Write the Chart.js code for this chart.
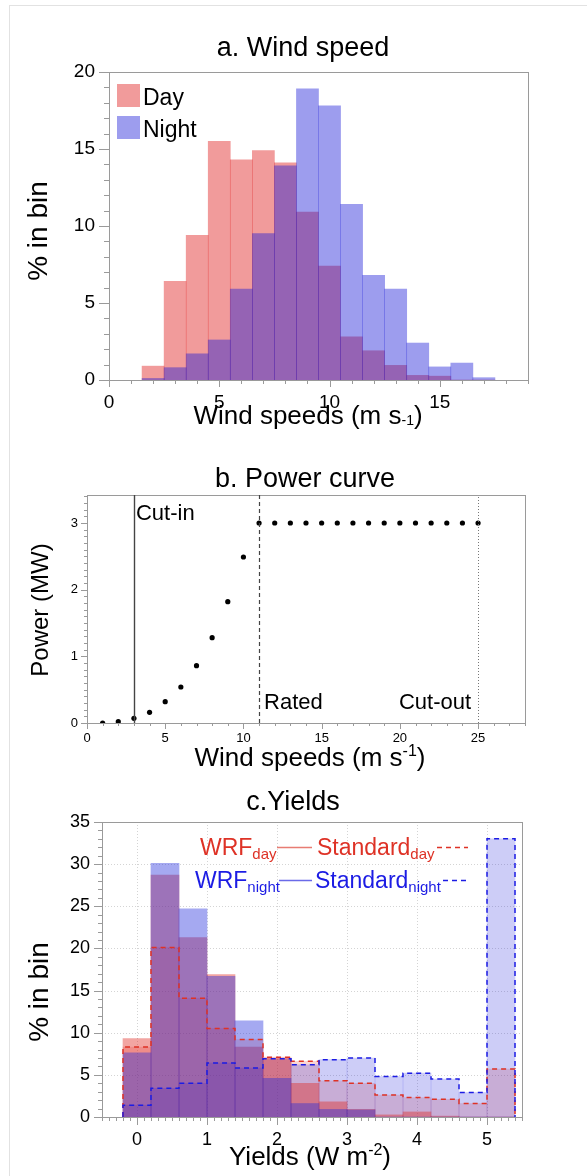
<!DOCTYPE html>
<html>
<head>
<meta charset="utf-8">
<script src="https://cdn.jsdelivr.net/npm/chart.js@4.4.1/dist/chart.umd.min.js"></script>
<style>
  html, body { margin: 0; padding: 0; background: #fff; }
  body { width: 587px; height: 1176px; position: relative; overflow: hidden; }
  .frame { position: absolute; left: 9px; top: 5px; width: 700px; height: 1300px; border: 1px solid #e2e2e2; }
  canvas { position: absolute; left: 0; }
  #windChart { top: 0; }
  #powerChart { top: 440px; }
  #yieldChart { top: 780px; }
</style>
</head>
<body>
<div class="frame"></div>
<canvas id="windChart" width="587" height="440"></canvas>
<canvas id="powerChart" width="587" height="340"></canvas>
<canvas id="yieldChart" width="587" height="396"></canvas>
<script>
const FONT = '"Liberation Sans", Arial, Helvetica, sans-serif';

// a. wind speed histogram (% in each 1 m/s bin, bin centres)
const windBins = [2, 3, 4, 5, 6, 7, 8, 9, 10, 11, 12, 13, 14, 15, 16, 17];
const dayPct = [0.9, 6.4, 9.4, 15.5, 14.3, 14.9, 14.1, 10.9, 7.4, 2.8, 1.9, 0.95, 0.3, 0.25, 0, 0];
const nightPct = [0.1, 0.8, 1.7, 2.6, 5.9, 9.5, 13.9, 18.9, 17.8, 11.4, 6.8, 5.9, 2.4, 0.85, 1.1, 0.15];
const windXLabels = [0, 5, 10, 15];
const windYLabels = [0, 5, 10, 15, 20];

// b. power curve
const powerSpeeds = [1, 2, 3, 4, 5, 6, 7, 8, 9, 10, 11, 12, 13, 14, 15, 16, 17, 18, 19, 20, 21, 22, 23, 24, 25];
const powerMW = [0, 0.02, 0.07, 0.16, 0.32, 0.54, 0.86, 1.28, 1.82, 2.49, 3, 3, 3, 3, 3, 3, 3, 3, 3, 3, 3, 3, 3, 3, 3];
const cutIn = 3, ratedSpeed = 11, cutOut = 25;
const powerXLabels = [0, 5, 10, 15, 20, 25];
const powerYLabels = [0, 1, 2, 3];

// c. yields histogram (0.4 W m-2 bins, bin centres)
const yieldBins = [0, 0.4, 0.8, 1.2, 1.6, 2.0, 2.4, 2.8, 3.2, 3.6, 4.0, 4.4, 4.8, 5.2];
const yieldBinWidth = 0.4;
const wrfDay = [9.3, 28.7, 21.3, 16.9, 8.3, 7.0, 4.0, 1.8, 0.9, 0.25, 0.6, 0.1, 0, 0];
const wrfNight = [7.6, 30.1, 24.7, 16.7, 11.4, 4.6, 1.6, 0.9, 0.85, 0, 0, 0, 0, 0];
const stdDay = [8.3, 20.1, 14.1, 10.5, 9.2, 7.1, 6.6, 4.3, 4.0, 2.6, 2.3, 2.1, 1.6, 5.7];
const stdNight = [1.4, 3.4, 4.0, 6.4, 5.8, 6.9, 6.2, 6.8, 7.0, 4.8, 5.2, 4.5, 2.9, 33.0];
const yieldXLabels = [0, 1, 2, 3, 4, 5];
const yieldYLabels = [0, 5, 10, 15, 20, 25, 30, 35];

const DAY_COL = 'rgba(224,33,33,0.45)';
const NIGHT_COL = 'rgba(22,22,215,0.42)';

Chart.defaults.animation = false;
Chart.defaults.responsive = false;
Chart.defaults.events = [];
Chart.defaults.font.family = FONT;
Chart.defaults.color = '#000';
Chart.defaults.plugins.legend.display = false;
Chart.defaults.plugins.tooltip.enabled = false;

const has = (arr, v) => arr.some(m => Math.abs(m - v) < 1e-6);
const pts = (xs, ys) => xs.map((x, i) => ({ x: x, y: ys[i] }));

// outline of a histogram as a step line
function stepOutline(centers, values, w) {
  const out = [{ x: centers[0] - w / 2, y: 0 }];
  centers.forEach((c, i) => {
    out.push({ x: c - w / 2, y: values[i] });
    out.push({ x: c + w / 2, y: values[i] });
  });
  out.push({ x: centers[centers.length - 1] + w / 2, y: 0 });
  return out;
}

// text with sub/superscript pieces, y is baseline
function drawRich(ctx, x, y, parts, align) {
  let total = 0;
  parts.forEach(p => {
    ctx.font = p.size + 'px ' + FONT;
    p.w = ctx.measureText(p.text).width;
    total += p.w;
  });
  let cx = align === 'center' ? x - total / 2 : (align === 'right' ? x - total : x);
  ctx.textAlign = 'left';
  parts.forEach(p => {
    ctx.font = p.size + 'px ' + FONT;
    ctx.fillText(p.text, cx, y + (p.dy || 0));
    cx += p.w;
  });
  return cx;
}

// labelled ticks only; minor ticks are drawn by axesDecor
function linearAxis(min, max, step, labels, size, pad, fixed, isY) {
  return {
    type: 'linear', min: min, max: max, offset: false,
    grid: { display: false, drawTicks: false },
    border: { display: false },
    ticks: {
      stepSize: step, autoSkip: false, maxRotation: 0, includeBounds: false,
      padding: pad, color: '#000', font: { size: size, family: FONT },
      callback: v => has(labels, v) ? String(Math.round(v)) : ''
    },
    afterFit: s => { if (isY) s.width = fixed; else s.height = fixed; }
  };
}

// frame box, tick marks, dotted grid
const axesDecor = {
  id: 'axesDecor',
  beforeDatasetsDraw(chart, args, o) {
    if (!o.grid) return;
    const ctx = chart.ctx, a = chart.chartArea;
    ctx.save();
    ctx.strokeStyle = '#d4d4d4';
    ctx.lineWidth = 1;
    ctx.setLineDash([1, 2]);
    o.grid.x.forEach(v => {
      const p = Math.round(chart.scales.x.getPixelForValue(v)) + 0.5;
      ctx.beginPath(); ctx.moveTo(p, a.top); ctx.lineTo(p, a.bottom); ctx.stroke();
    });
    o.grid.y.forEach(v => {
      const p = Math.round(chart.scales.y.getPixelForValue(v)) + 0.5;
      ctx.beginPath(); ctx.moveTo(a.left, p); ctx.lineTo(a.right, p); ctx.stroke();
    });
    ctx.restore();
  },
  afterDraw(chart, args, o) {
    const ctx = chart.ctx, a = chart.chartArea;
    ctx.save();
    ctx.strokeStyle = '#9a9a9a';
    ctx.lineWidth = 1;
    ctx.strokeRect(Math.round(a.left) + 0.5, Math.round(a.top) + 0.5, Math.round(a.right - a.left), Math.round(a.bottom - a.top));
    ['x', 'y'].forEach(id => {
      const s = chart.scales[id];
      const c = o[id];
      const n = Math.floor((s.max - s.min) / c.minorStep + 1e-6);
      for (let i = 0; i <= n; i++) {
        const v = s.min + i * c.minorStep;
        const len = has(c.majors, v) ? c.major : c.minor;
        const p = Math.round(s.getPixelForValue(v)) + 0.5;
        ctx.beginPath();
        if (id === 'x') { ctx.moveTo(p, a.bottom); ctx.lineTo(p, a.bottom + len); }
        else { ctx.moveTo(a.left, p); ctx.lineTo(a.left - len, p); }
        ctx.stroke();
      }
    });
    ctx.restore();
  }
};

// free text: titles, axis titles, legends
const labelsPlugin = {
  id: 'labelsPlugin',
  afterDraw(chart, args, o) {
    const ctx = chart.ctx;
    ctx.save();
    ctx.textBaseline = 'alphabetic';
    (o.items || []).forEach(it => {
      ctx.fillStyle = it.color || '#000';
      if (it.rotate) {
        ctx.save();
        ctx.translate(it.x, it.y);
        ctx.rotate(-Math.PI / 2);
        ctx.textBaseline = 'middle';
        drawRich(ctx, 0, 0, it.parts, 'center');
        ctx.restore();
      } else {
        drawRich(ctx, it.x, it.y, it.parts, it.align || 'center');
      }
    });
    if (o.extra) o.extra(chart, ctx);
    ctx.restore();
  }
};

// ---------- a. Wind speed ----------
new Chart(document.getElementById('windChart'), {
  type: 'bar',
  data: {
    datasets: [
      { label: 'Night', data: pts(windBins, nightPct), backgroundColor: NIGHT_COL, borderWidth: 0, order: 1 },
      { label: 'Day', data: pts(windBins, dayPct), backgroundColor: DAY_COL, borderWidth: 0, order: 2 }
    ]
  },
  options: {
    layout: { padding: { left: 0, right: 59, top: 72, bottom: 0 } },
    datasets: { bar: { grouped: false, barPercentage: 1, categoryPercentage: 1 } },
    scales: {
      x: linearAxis(0, 19, 5, windXLabels, 19, 11, 60, false),
      y: linearAxis(0, 20, 5, windYLabels, 19, 14, 109, true)
    },
    plugins: {
      axesDecor: {
        x: { majors: windXLabels, minorStep: 1, major: 7, minor: 4 },
        y: { majors: windYLabels, minorStep: 1, major: 10, minor: 5 }
      },
      labelsPlugin: {
        items: [
          { x: 303, y: 56, parts: [{ text: 'a. Wind speed', size: 27 }] },
          { x: 308, y: 424, parts: [{ text: 'Wind speeds (m s', size: 26 }, { text: '-1', size: 14, dy: 1 }, { text: ')', size: 26 }] },
          { x: 39, y: 231, rotate: true, parts: [{ text: '% in bin', size: 28 }] }
        ],
        extra: (chart, ctx) => {
          const ds = chart.data.datasets;
          [[ds[1], 84, 105], [ds[0], 116, 137]].forEach(([d, top, base]) => {
            ctx.fillStyle = d.backgroundColor;
            ctx.fillRect(117, top, 23, 23);
            ctx.fillStyle = '#000';
            ctx.font = '23px ' + FONT;
            ctx.textAlign = 'left';
            ctx.fillText(d.label, 143, base);
          });
        }
      }
    }
  },
  plugins: [axesDecor, labelsPlugin]
});

// ---------- b. Power curve ----------
new Chart(document.getElementById('powerChart'), {
  type: 'scatter',
  data: {
    datasets: [
      { label: 'Power', data: pts(powerSpeeds, powerMW), pointRadius: 2.6, backgroundColor: '#000', borderWidth: 0 }
    ]
  },
  options: {
    layout: { padding: { left: 0, right: 62, top: 55, bottom: 0 } },
    scales: {
      x: linearAxis(0, 28, 5, powerXLabels, 13, 8, 57, false),
      y: linearAxis(0, 3.42, 1, powerYLabels, 13, 9, 87, true)
    },
    plugins: {
      axesDecor: {
        x: { majors: powerXLabels, minorStep: 1, major: 6, minor: 3 },
        y: { majors: powerYLabels, minorStep: 0.1, major: 6, minor: 3 }
      },
      labelsPlugin: {
        items: [
          { x: 305, y: 47, parts: [{ text: 'b. Power curve', size: 27 }] },
          { x: 310, y: 326, parts: [{ text: 'Wind speeds (m s', size: 26 }, { text: '-1', size: 16, dy: -10 }, { text: ')', size: 26 }] },
          { x: 41, y: 170, rotate: true, parts: [{ text: 'Power (MW)', size: 24 }] }
        ],
        extra: (chart, ctx) => {
          const x = chart.scales.x, a = chart.chartArea;
          const lines = [
            { v: cutIn, dash: [], color: '#444', w: 1.4 },
            { v: ratedSpeed, dash: [4, 3], color: '#444', w: 1.2 },
            { v: cutOut, dash: [1, 2], color: '#777', w: 1 }
          ];
          lines.forEach(l => {
            const p = Math.round(x.getPixelForValue(l.v)) + 0.5;
            ctx.save();
            ctx.strokeStyle = l.color; ctx.lineWidth = l.w; ctx.setLineDash(l.dash);
            ctx.beginPath(); ctx.moveTo(p, a.bottom); ctx.lineTo(p, a.top); ctx.stroke();
            ctx.restore();
          });
          ctx.fillStyle = '#000';
          ctx.font = '22px ' + FONT;
          ctx.textAlign = 'left';
          ctx.fillText('Cut-in', x.getPixelForValue(cutIn) + 2, a.top + 25);
          ctx.fillText('Rated', x.getPixelForValue(ratedSpeed) + 5, a.bottom - 14);
          ctx.textAlign = 'right';
          ctx.fillText('Cut-out', x.getPixelForValue(cutOut) - 7, a.bottom - 14);
        }
      }
    }
  },
  plugins: [axesDecor, labelsPlugin]
});

// ---------- c. Yields ----------
const RED = 'rgb(222,50,38)';
const BLUE = 'rgb(28,28,228)';
new Chart(document.getElementById('yieldChart'), {
  type: 'bar',
  data: {
    datasets: [
      { label: 'Standard night', data: pts(yieldBins, stdNight), backgroundColor: 'rgba(40,40,220,0.23)', borderWidth: 0, order: 5 },
      { label: 'Standard day', data: pts(yieldBins, stdDay), backgroundColor: 'rgba(225,50,40,0.2)', borderWidth: 0, order: 6 },
      { label: 'WRF day', data: pts(yieldBins, wrfDay), backgroundColor: 'rgba(224,40,33,0.42)', borderWidth: 0, order: 4 },
      { label: 'WRF night', data: pts(yieldBins, wrfNight), backgroundColor: 'rgba(30,40,220,0.4)', borderWidth: 0, order: 3 },
      { type: 'line', label: 'Standard day outline', data: stepOutline(yieldBins, stdDay, yieldBinWidth), borderColor: RED, borderWidth: 1.5, borderDash: [5, 4], pointRadius: 0, fill: false, tension: 0, order: 1 },
      { type: 'line', label: 'Standard night outline', data: stepOutline(yieldBins, stdNight, yieldBinWidth), borderColor: BLUE, borderWidth: 1.5, borderDash: [5, 4], pointRadius: 0, fill: false, tension: 0, order: 0 }
    ]
  },
  options: {
    layout: { padding: { left: 0, right: 65, top: 42, bottom: 0 } },
    datasets: { bar: { grouped: false, barPercentage: 1, categoryPercentage: 1 } },
    scales: {
      x: linearAxis(-0.5, 5.5, 0.5, yieldXLabels, 18, 12, 59, false),
      y: linearAxis(0, 35, 5, yieldYLabels, 18, 12, 102, true)
    },
    plugins: {
      axesDecor: {
        x: { majors: yieldXLabels, minorStep: 0.1, major: 8, minor: 4 },
        y: { majors: yieldYLabels, minorStep: 1, major: 8, minor: 4 },
        grid: { x: [0, 1, 2, 3, 4, 5], y: [5, 10, 15, 20, 25, 30] }
      },
      labelsPlugin: {
        items: [
          { x: 293, y: 30, parts: [{ text: 'c.Yields', size: 27 }] },
          { x: 310, y: 385, parts: [{ text: 'Yields (W m', size: 26 }, { text: '-2', size: 16, dy: -10 }, { text: ')', size: 26 }] },
          { x: 40, y: 212, rotate: true, parts: [{ text: '% in bin', size: 28 }] }
        ],
        extra: (chart, ctx) => {
          const rows = [
            { y: 75, color: RED, line: 'rgba(230,110,100,0.9)', sub: 'day', wrfX: 200, lineX: [277, 312], stdX: 317, dash: [437, 468] },
            { y: 108, color: BLUE, line: 'rgba(90,90,230,0.9)', sub: 'night', wrfX: 195, lineX: [279, 312], stdX: 315, dash: [443, 468] }
          ];
          rows.forEach(r => {
            ctx.fillStyle = r.color;
            drawRich(ctx, r.wrfX, r.y, [{ text: 'WRF', size: 23 }, { text: r.sub, size: 15, dy: 4 }], 'left');
            drawRich(ctx, r.stdX, r.y, [{ text: 'Standard', size: 23 }, { text: r.sub, size: 15, dy: 4 }], 'left');
            ctx.save();
            ctx.lineWidth = 1.5;
            ctx.strokeStyle = r.line;
            ctx.beginPath(); ctx.moveTo(r.lineX[0], r.y - 7.5); ctx.lineTo(r.lineX[1], r.y - 7.5); ctx.stroke();
            ctx.strokeStyle = r.color;
            ctx.setLineDash([5, 4]);
            ctx.beginPath(); ctx.moveTo(r.dash[0], r.y - 7.5); ctx.lineTo(r.dash[1], r.y - 7.5); ctx.stroke();
            ctx.restore();
          });
        }
      }
    }
  },
  plugins: [axesDecor, labelsPlugin]
});
</script>
</body>
</html>
